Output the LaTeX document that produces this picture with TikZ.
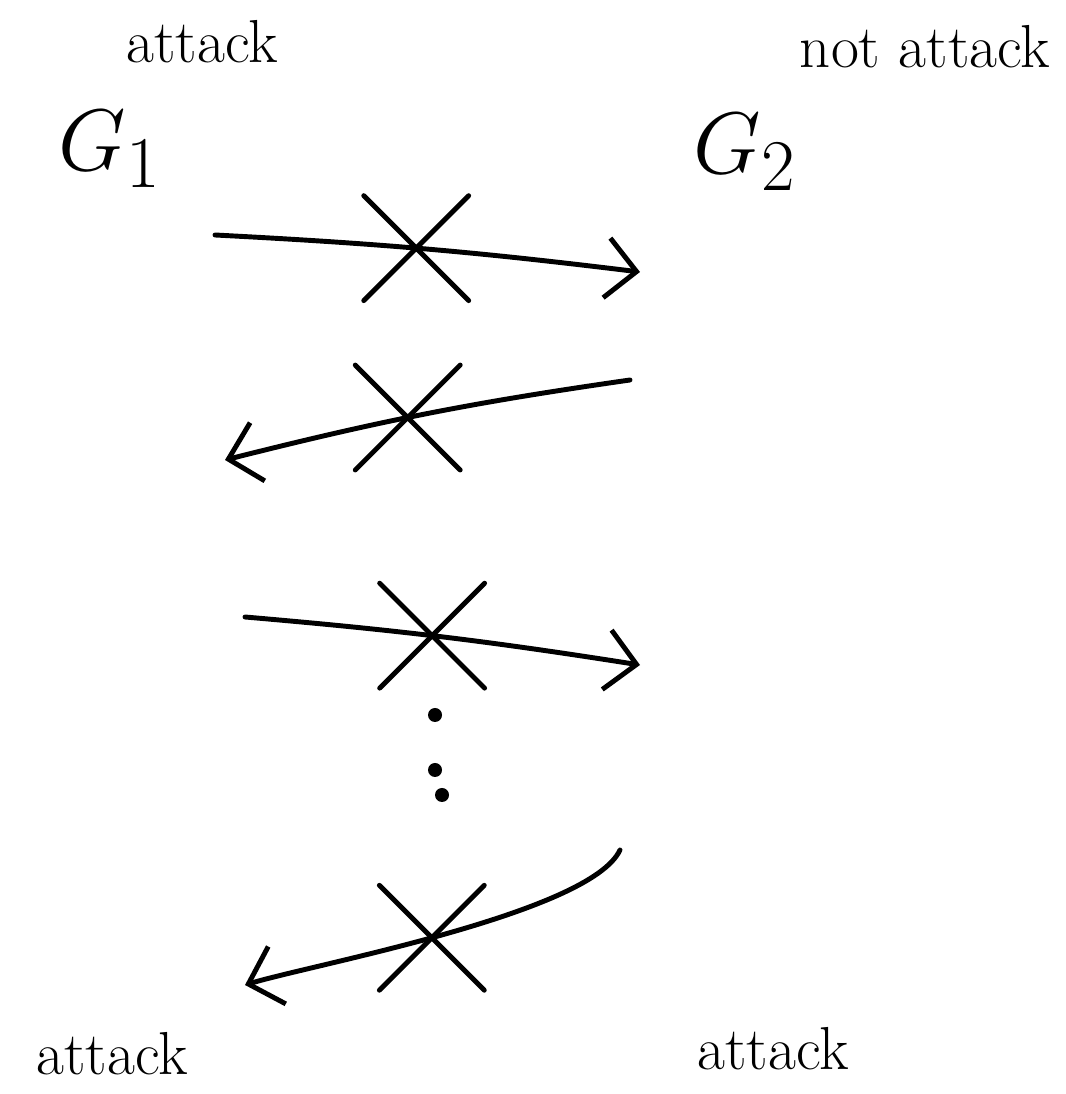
\documentclass[tikz,border=0pt]{standalone}
\usetikzlibrary{arrows.meta,shapes.misc}

\begin{document}
\begin{tikzpicture}[
    lbl/.style={font=\LARGE, inner sep=0pt},
    graphname/.style={font=\Huge, inner sep=0pt},
    flow/.style={line width=1.4pt, line cap=round,
                 -{Straight Barb[length=3mm, width=6mm, line width=1.4pt]}},
    blocked/.style={cross out, draw, line width=1.4pt, line cap=round,
                    minimum width=1cm, minimum height=1cm, inner sep=0pt},
    dot/.style={circle, fill, inner sep=0pt, minimum size=1.4mm}
  ]
    \useasboundingbox (0,0) rectangle (10.66,10.94);

    % Top labels
    \node[lbl] (atkA) at (2.02,10.52) {attack};
    \node[lbl] (atkB) at (9.25,10.47) {not attack};
    \node[graphname] (gA) at (1.10,9.45) {$G_1$};
    \node[graphname] (gB) at (7.45,9.42) {$G_2$};

    % Arrow ends
    \coordinate (r1s) at (2.15,8.59);
    \coordinate (r1e) at (6.40,8.22);
    \coordinate (l1s) at (6.30,7.14);
    \coordinate (l1e) at (2.25,6.34);
    \coordinate (r2s) at (2.45,4.77);
    \coordinate (r2e) at (6.40,4.29);
    \coordinate (l2s) at (6.20,2.44);
    \coordinate (l2e) at (2.45,1.09);

    % Blocked messages
    \draw[flow] (r1s) to[bend left=2] node[blocked, pos=0.47] (x1) {} (r1e);
    \draw[flow] (l1s) to[bend right=3] node[blocked, pos=0.55] (x2) {} (l1e);
    \draw[flow] (r2s) to[bend left=2] node[blocked, pos=0.47] (x3) {} (r2e);
    \draw[flow] (l2s) to[out=-115, in=17, looseness=0.45]
        node[blocked, pos=0.53] (x4) {} (l2e);

    % Dots
    \node[dot] (d1) at (4.35,3.79) {};
    \node[dot] (d2) at (4.35,3.24) {};
    \node[dot] (d3) at (4.42,2.99) {};

    % Bottom labels
    \node[lbl] (atkC) at (1.12,0.40) {attack};
    \node[lbl] (atkD) at (7.73,0.45) {attack};
  \end{tikzpicture}
\end{document}
